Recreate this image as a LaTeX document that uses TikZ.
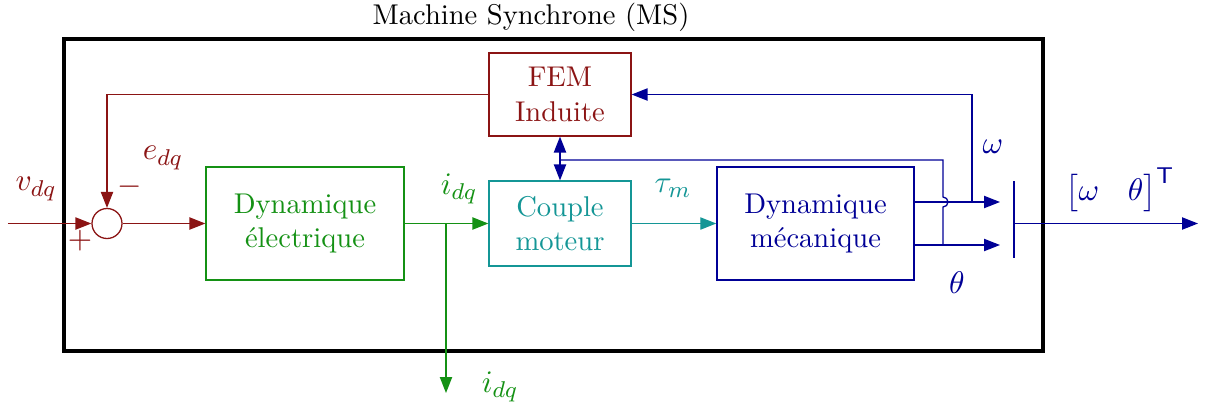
\documentclass[tikz,border=0pt]{standalone}
\usepackage{amsmath}
\usetikzlibrary{arrows.meta}
\definecolor{femred}{RGB}{139,20,20}
\definecolor{elecgreen}{RGB}{20,145,20}
\definecolor{coupleteal}{RGB}{20,150,150}
\definecolor{mecblue}{RGB}{0,0,150}
\tikzset{
  bloc/.style={draw, align=center, inner sep=2pt},
  fleche/.style={-{Triangle[length=5.6pt,width=4.3pt]}},
  doublefleche/.style={{Triangle[length=5.6pt,width=4.3pt]}-{Triangle[length=5.6pt,width=4.3pt]}},
  etiquette/.style={font=\fontsize{11}{13}\selectfont},
}
\begin{document}
\begin{tikzpicture}[x=0.35pt,y=0.35pt,yscale=-1,xscale=1,line width=0.45pt]
\useasboundingbox (0,0) rectangle (1210,410);

% Machine synchrone
\draw[line width=1.4pt] (64,39) rectangle (1043,351);
\node (titre) at (531,17) {Machine Synchrone (MS)};

% Blocs
\node[bloc, femred, minimum width=49.7pt, minimum height=29pt] (fem) at (560,94.5) {FEM\\Induite};
\node[bloc, elecgreen, minimum width=69.3pt, minimum height=39.5pt] (elec) at (305,223.5) {Dynamique\\électrique};
\node[bloc, coupleteal, minimum width=49.7pt, minimum height=29.75pt] (couple) at (560,223.5) {Couple\\moteur};
\node[bloc, mecblue, minimum width=69pt, minimum height=39.5pt] (meca) at (815.5,223.5) {Dynamique\\mécanique};
\node[draw, femred, circle, minimum size=10.5pt, inner sep=0pt] (somme) at (107,223.5) {};

% Points
\coordinate (entree) at (8,223.5);
\coordinate (idqbr) at (446,223.5);
\coordinate (idqout) at (446,393);
\coordinate (wout) at (1000,202);
\coordinate (thout) at (1000,245);
\coordinate (wbr) at (972,202);
\coordinate (thbr) at (943,245);
\coordinate (sautbas) at (943,207);
\coordinate (thhaut) at (943,160);
\coordinate (thjonc) at (560,160);
\coordinate (muxh) at (1014,181);
\coordinate (muxb) at (1014,258);
\coordinate (muxc) at (1014,223.5);
\coordinate (sortie) at (1198,223.5);

% Liaisons
\draw[femred, fleche] (entree) -- (somme);
\draw[femred, fleche] (fem.west) -| (somme.north);
\draw[femred, fleche] (somme) -- (elec);
\draw[elecgreen, fleche] (elec) -- (couple);
\draw[elecgreen, fleche] (idqbr) -- (idqout);
\draw[coupleteal, fleche] (couple) -- (meca);
\draw[mecblue, fleche] (meca.east |- wout) -- (wout);
\draw[mecblue, fleche] (meca.east |- thout) -- (thout);
\draw[mecblue, fleche] (wbr) |- (fem.east);
\draw[mecblue] (thbr) -- (sautbas) arc[start angle=90, end angle=-90, radius=5] -- (thhaut) -- (thjonc);
\draw[mecblue, doublefleche] (fem) -- (couple);
\draw[mecblue] (muxh) -- (muxb);
\draw[mecblue, fleche] (muxc) -- (sortie);

% Etiquettes
\node[etiquette, femred] (lvdq) at (36,189) {$v_{dq}$};
\node[etiquette, femred] (ledq) at (163,158) {$e_{dq}$};
\node[etiquette, femred] (lmoins) at (130,187) {$-$};
\node[etiquette, femred] (lplus) at (80,241) {$+$};
\node[etiquette, elecgreen] (lidq) at (459,189) {$i_{dq}$};
\node[etiquette, elecgreen] (lidqbas) at (500,387) {$i_{dq}$};
\node[etiquette, coupleteal] (ltau) at (673,188) {$\tau_m$};
\node[etiquette, mecblue] (lomega) at (993,147) {$\omega$};
\node[etiquette, mecblue] (ltheta) at (957,283) {$\theta$};
\node[etiquette, mecblue] (lsortie) at (1120,190) {$\begin{bmatrix}\omega & \theta\end{bmatrix}^{\mathsf{T}}$};
\end{tikzpicture}
\end{document}
